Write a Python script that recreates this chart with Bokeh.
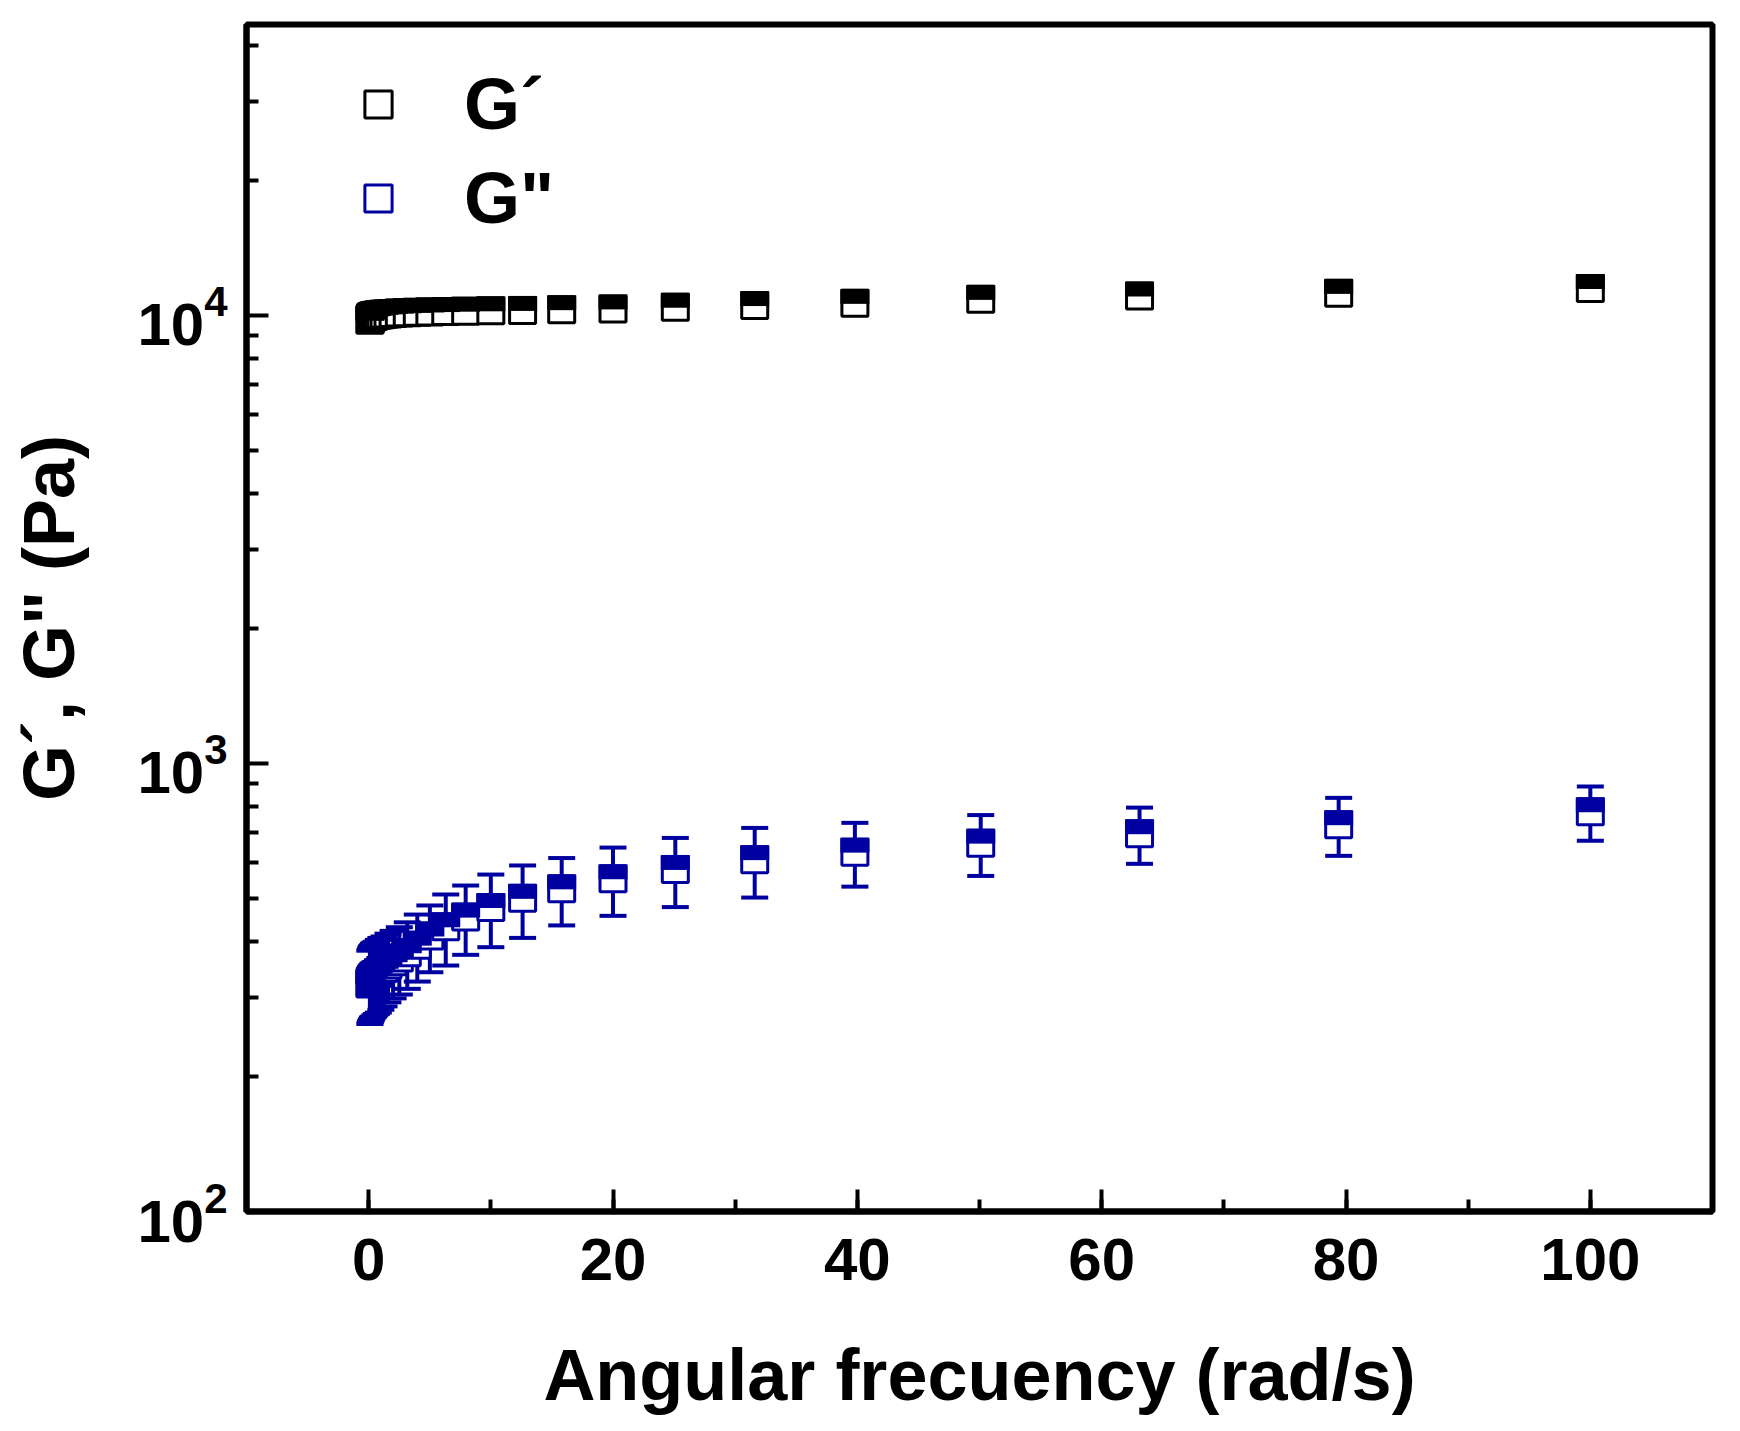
import math
from bokeh.plotting import figure
from bokeh.models import (Range1d, SingleIntervalTicker, FixedTicker, LogTickFormatter,
                          ColumnDataSource, Whisker, TeeHead, Legend, LegendItem)
from bokeh.embed import file_html
from bokeh.resources import INLINE

# ---------------- data ----------------
freq = [0.1, 0.126, 0.158, 0.2, 0.251, 0.316, 0.398, 0.501, 0.631, 0.794,
        1.0, 1.26, 1.58, 2.0, 2.51, 3.16, 3.98, 5.01, 6.31, 7.94,
        10.0, 12.6, 15.8, 20.0, 25.1, 31.6, 39.8, 50.1, 63.1, 79.4, 100.0]

g_storage = [9750, 9800, 9850, 9880, 9910, 9940, 9960, 9980, 10000, 10020,
             10040, 10060, 10080, 10100, 10120, 10140, 10160, 10180, 10200, 10220,
             10240, 10260, 10300, 10340, 10430, 10520, 10640, 10860, 11050, 11200, 11480]
g_storage_err = [450, 450, 450, 460, 460, 460, 470, 470, 470, 480,
                 480, 480, 480, 490, 490, 490, 490, 500, 500, 500,
                 500, 500, 510, 510, 520, 520, 530, 540, 550, 560, 570]

g_loss = [322, 324, 326, 328, 330, 332, 334, 336, 338, 341,
          345, 349, 355, 361, 368, 378, 393, 412, 432, 454,
          477, 500, 525, 553, 580, 610, 634, 664, 697, 730, 780]
g_loss_err = [60, 60, 60, 61, 61, 61, 62, 62, 62, 63,
              63, 62, 62, 62, 63, 64, 67, 70, 78, 80,
              88, 92, 90, 96, 102, 108, 103, 103, 100, 108, 108]

labels = ["G\u00b4", "G\""]
x_label = "Angular frecuency (rad/s)"
y_label = "G\u00b4, G\" (Pa)"

# ---------------- layout / style ----------------
FONT = "Liberation Sans"
BLUE = "#0000A0"
XMIN, XMAX = -10, 110
YMIN, YMAX = 100, 44600
FRAME_W, FRAME_H = 1466, 1187
MSIZE = 26          # marker side (px)
FILL_H = 15         # filled upper part (px)
OFFSET_PX = 7       # centre offset of filled part above the point (px)

p = figure(frame_width=FRAME_W, frame_height=FRAME_H,
           x_range=Range1d(XMIN, XMAX), y_range=Range1d(YMIN, YMAX),
           y_axis_type="log", output_backend="svg", toolbar_location=None,
           min_border_left=246, min_border_right=10, min_border_top=24,
           min_border_bottom=150, background_fill_color="white",
           border_fill_color="white")

p.xgrid.visible = False
p.ygrid.visible = False
p.outline_line_color = "black"
p.outline_line_width = 6

# axes
for ax in (p.xaxis[0], p.yaxis[0]):
    ax.axis_line_width = 6
    ax.axis_line_color = "black"
    ax.major_tick_line_width = 4
    ax.minor_tick_line_width = 4
    ax.major_tick_in = 22
    ax.major_tick_out = 0
    ax.minor_tick_in = 12
    ax.minor_tick_out = 0
    ax.major_label_text_font = FONT
    ax.major_label_text_font_style = "bold"
    ax.major_label_text_font_size = "60px"
    ax.major_label_text_color = "black"
    ax.axis_label_text_font = FONT
    ax.axis_label_text_font_style = "bold"
    ax.axis_label_text_color = "black"

p.xaxis.ticker = SingleIntervalTicker(interval=20, num_minor_ticks=2)
p.xaxis.axis_label = x_label
p.xaxis.axis_label_text_font_size = "72px"
p.xaxis.major_label_standoff = 27
p.xaxis.axis_label_standoff = 52

minor = [m * 10 ** k for k in range(2, 5) for m in range(2, 10) if m * 10 ** k <= YMAX]
p.yaxis.ticker = FixedTicker(ticks=[100, 1000, 10000], minor_ticks=minor)
p.yaxis.formatter = LogTickFormatter()
p.yaxis.axis_label = y_label
p.yaxis.axis_label_text_font_size = "72px"
p.yaxis.major_label_standoff = 19
p.yaxis.axis_label_standoff = 45

# vertical offset of the filled half, derived from the log scale of the frame
shift = 10 ** (OFFSET_PX * math.log10(YMAX / YMIN) / FRAME_H)


def series(values, errs, color):
    src = ColumnDataSource(dict(
        x=freq, y=values,
        upper=[v + e for v, e in zip(values, errs)],
        lower=[v - e for v, e in zip(values, errs)],
        ytop=[v * shift for v in values],
    ))
    w = Whisker(source=src, base="x", upper="upper", lower="lower", dimension="height",
                line_color=color, line_width=4, level="underlay",
                upper_head=TeeHead(size=27, line_color=color, line_width=4),
                lower_head=TeeHead(size=27, line_color=color, line_width=4))
    p.add_layout(w)
    sq = p.scatter("x", "y", source=src, marker="square", size=MSIZE,
                   fill_color="white", line_color=color, line_width=3)
    p.rect("x", "ytop", source=src, width=MSIZE + 3, height=FILL_H,
           width_units="screen", height_units="screen",
           fill_color=color, line_color=None)
    return sq


sq1 = series(g_storage, g_storage_err, "black")
sq2 = series(g_loss, g_loss_err, BLUE)

legend = Legend(items=[LegendItem(label=labels[0], renderers=[sq1], index=0),
                       LegendItem(label=labels[1], renderers=[sq2], index=0)],
                location=(98, 972), glyph_width=68, glyph_height=68,
                label_standoff=52, spacing=12, padding=10, margin=0,
                border_line_color=None, background_fill_alpha=0,
                label_text_font=FONT, label_text_font_style="bold",
                label_text_font_size="72px", label_text_color="black")
p.add_layout(legend)

open("out.html", "w").write(file_html(p, INLINE))
